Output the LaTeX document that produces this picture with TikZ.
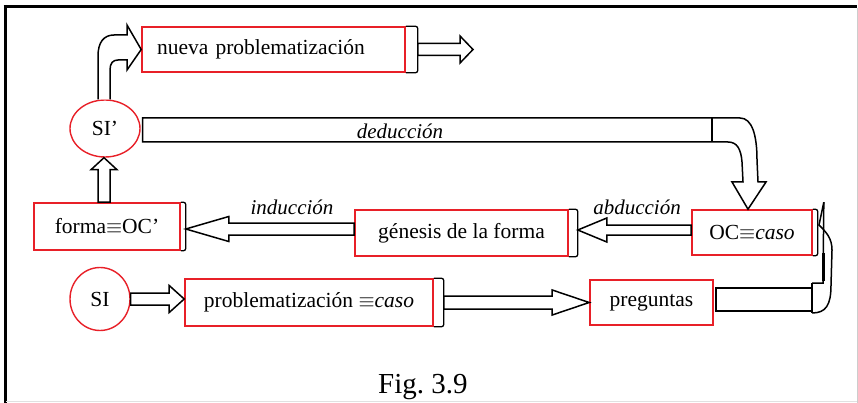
\documentclass[tikz,border=0pt]{standalone}
\usepackage{fontspec}
\setmainfont{Liberation Serif}
\usetikzlibrary{calc,shapes.geometric}
\definecolor{boxred}{RGB}{232,32,40}
\definecolor{framegray}{RGB}{205,205,205}
\newcommand\figsize{\fontsize{21.5}{25}\selectfont}
% horizontal hollow arrow: start, end, shaft half-width, head half-width, head length
\newcommand\hfat[5]{%
  \draw[fat] let \p1=(#1), \p2=(#2 |- #1), \n1={ifthenelse(\x2>\x1,1,-1)} in
    (\x1,{\y1+#3pt}) -- ({\x2-\n1*#5pt},{\y1+#3pt}) -- ({\x2-\n1*#5pt},{\y1+#4pt})
    -- (\x2,\y1) -- ({\x2-\n1*#5pt},{\y1-#4pt}) -- ({\x2-\n1*#5pt},{\y1-#3pt})
    -- (\x1,{\y1-#3pt}) -- cycle;}
% vertical hollow arrow, same arguments
\newcommand\vfat[5]{%
  \draw[fat] let \p1=(#1), \p2=(#1 |- #2), \n1={ifthenelse(\y2>\y1,1,-1)} in
    ({\x1+#3pt},\y1) -- ({\x1+#3pt},{\y2-\n1*#5pt}) -- ({\x1+#4pt},{\y2-\n1*#5pt})
    -- (\x1,\y2) -- ({\x1-#4pt},{\y2-\n1*#5pt}) -- ({\x1-#3pt},{\y2-\n1*#5pt})
    -- ({\x1-#3pt},\y1) -- cycle;}
\begin{document}
\begin{tikzpicture}[x=1pt,y=-1pt,
  box/.style={draw=boxred, line width=1.6pt, minimum height=45pt, inner sep=0pt, font=\figsize},
  blob/.style={ellipse, draw=boxred, line width=1.4pt, inner sep=0pt, font=\figsize},
  fat/.style={draw=black, line width=1.5pt, fill=white, line join=miter},
  fatline/.style={draw=black, line width=1.5pt},
  capline/.style={draw=black, line width=1.3pt, rounded corners=2.5pt},
  lbl/.style={font=\fontsize{21}{25}\selectfont\itshape, inner sep=0pt}]
\useasboundingbox (0,0) rectangle (858,403);
\fill[white] (0,0) rectangle (858,403);

% frame
\draw[line width=3pt] (3.5,6.5) -- (857,6.5);
\draw[line width=3pt] (5,5) -- (5,403);
\draw[framegray, line width=1pt] (857.5,8) -- (857.5,403);
\draw[framegray!60, line width=1pt] (6,401.5) -- (857,401.5);

% boxes
\node[box, minimum width=263pt, text width=233pt, align=left] (nueva) at (273.5,49.5) {nueva problematización};
\node[box, minimum width=120pt] (occ) at (752,232.5) {OC$\equiv$\textit{caso}};
\node[box, minimum width=213pt, minimum height=46pt] (gen) at (461.5,233) {génesis de la forma};
\node[box, minimum width=146pt, minimum height=47pt] (forma) at (107,226.5) {forma$\equiv$OC’};
\node[box, minimum width=248pt, minimum height=47pt] (prob) at (309,302.5) {problematización $\equiv$\textit{caso}};
\node[box, minimum width=123pt] (preg) at (651.5,302.5) {preguntas};
\node[blob, minimum width=70pt, minimum height=57pt] (sip) at (105,128.5) {SI’};
\node[blob, minimum width=60pt, minimum height=63pt] (si) at (100,299) {SI};

% black end caps on the right of the boxes
\foreach \n/\c in {nueva/12,occ/5,gen/9,forma/5,prob/10}{
  \draw[capline] (\n.north east) -- ($(\n.north east)+(\c,0)$) -- ($(\n.south east)+(\c,0)$) -- (\n.south east);
  \coordinate (\n-end) at ($(\n.east)+(\c,0)$);
}

% arrow start points
\coordinate (occ-out) at ($(occ.west)+(0,-2.5)$);
\coordinate (gen-out) at ($(gen.west)+(0,-4)$);
\coordinate (forma-out) at ($(forma.north)+(-3,0)$);
\coordinate (nuevaout) at (473,50);

% straight hollow arrows
\hfat{nueva-end}{nuevaout}{6}{13.5}{13}
\hfat{si.east}{prob.west}{6}{13.5}{15}
\hfat{prob-end}{preg.west}{6.5}{12.5}{37}
\hfat{occ-out}{gen-end}{5}{12}{29}
\hfat{gen-out}{forma-end}{6}{12.5}{43}
\vfat{forma-out}{sip.south}{6}{13}{12}

% bent arrow from SI' to the new problematization
\draw[fat] ($(sip.north)+(-7,0)$) -- (98,56) .. controls (98,42) and (104,35) .. (114,35)
  -- (127,35) -- (127,25) -- (nueva.west) -- (127,70) -- (127,60) -- (118,60)
  .. controls (113,60) and (110,63) .. (110,70) -- ($(sip.north)+(5,0)$);

% deduction: wide bar from SI' bending down into OC
\draw[fat] ($(sip.east)+(2,-10.5)$) -- (740,118) .. controls (752,118) and (757,135) .. (757,160)
  -- (758,182) -- (766,182) -- ($(occ.north)+(-4,0)$) -- (732,182) -- (743,182)
  -- (742,162) .. controls (741,149) and (737,142) .. (728,142) -- ($(sip.east)+(2,13.5)$) -- cycle;
\draw[fatline] (712,118) -- (712,142);

% return from the questions up to OC
\draw[fat] ($(preg.east)+(2,-14.5)$) rectangle (812,311);
\draw[fatline] (812,283) -- (812,313);
\coordinate (octip) at ($(occ.north east)+(11,-7)$);
\draw[fatline] (812,283) -- (823,283) -- (octip);
\draw[line width=3pt] (823,253) -- (823,281);
\draw[fatline] (812,313) .. controls (826,313) and (831,305) .. (831,285) -- (832,250)
  .. controls (832,238) and (826,232) .. (819,225) -- (octip);

% labels
\node[lbl] (ded) at (400,131) {deducción};
\node[lbl] (abd) at (637,207) {abducción};
\node[lbl] (ind) at (292,207) {inducción};
\node[font=\fontsize{29}{34}\selectfont, anchor=base west, inner sep=0pt] (fig) at (378,393) {Fig.\ 3.9};
\end{tikzpicture}
\end{document}
